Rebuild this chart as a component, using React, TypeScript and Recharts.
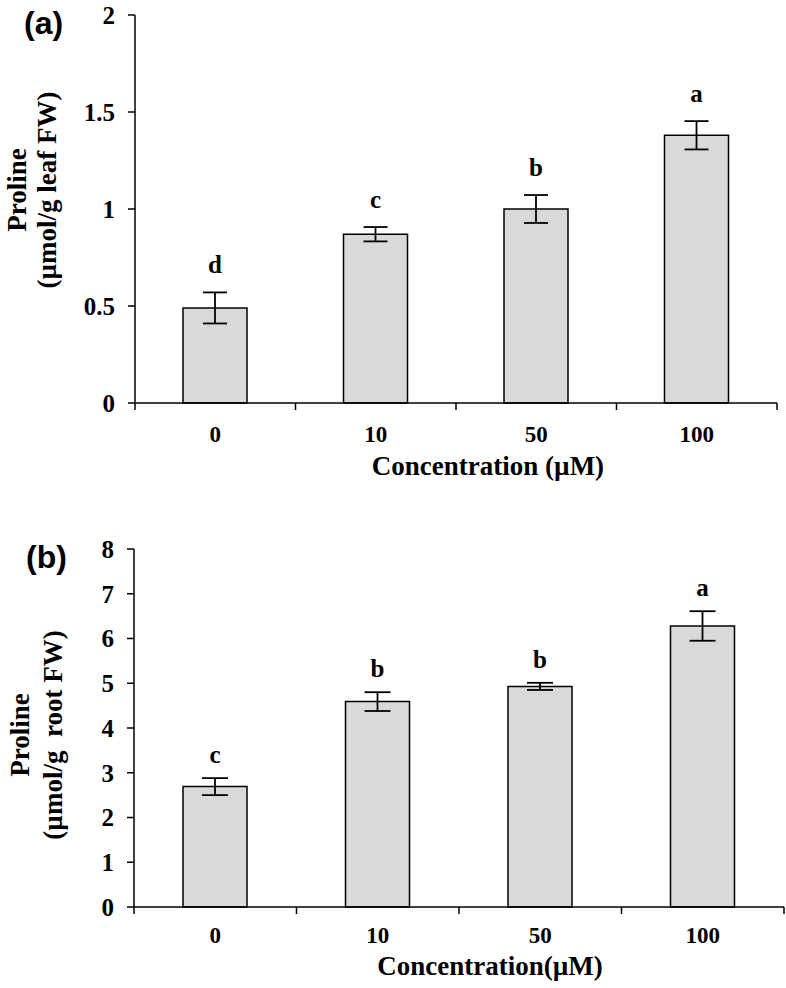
import React from 'react';
import { BarChart, Bar, XAxis, YAxis, ErrorBar } from 'recharts';

const concentrations = ['0', '10', '50', '100'];

const leafProline = [0.49, 0.87, 1.0, 1.38];
const leafErr = [0.08, 0.037, 0.072, 0.073];
const leafLetters = ['d', 'c', 'b', 'a'];
const leafTicks = [0, 0.5, 1, 1.5, 2];

const rootProline = [2.69, 4.59, 4.93, 6.28];
const rootErr = [0.19, 0.21, 0.08, 0.33];
const rootLetters = ['c', 'b', 'b', 'a'];
const rootTicks = [0, 1, 2, 3, 4, 5, 6, 7, 8];

const SERIF = '"Liberation Serif", "Times New Roman", serif';
const SANS = '"Liberation Sans", Arial, sans-serif';

interface PanelProps {
  top: number;
  height: number;
  margin: { top: number; right: number; left: number; bottom: number };
  yWidth: number;
  xHeight: number;
  values: number[];
  errs: number[];
  letters: string[];
  ticks: number[];
  tag: string;
  tagX: number;
  tagY: number;
  yLine1: string;
  yLine2: string;
  yLabelX: [number, number];
  yLabelY: number;
  xTitle: string;
  tickDy: number;
  titleDy: number;
  titleDx: number;
  letterGap: number;
  capWidth: number;
}

const W = 786;

const Panel: React.FC<PanelProps> = (p) => {
  const data = concentrations.map((c, i) => ({ conc: c, value: p.values[i], err: p.errs[i] }));
  const plotW = W - p.yWidth - p.margin.right - p.margin.left;
  const band = plotW / concentrations.length;

  const renderXTick = (props: any) => {
    const { x, y, index } = props;
    const lastIdx = concentrations.length - 1;
    return (
      <g>
        <line x1={x - band / 2} x2={x - band / 2} y1={y} y2={y + 7} stroke="#000" strokeWidth={1.5} />
        {index === lastIdx && (
          <line x1={x + band / 2} x2={x + band / 2} y1={y} y2={y + 7} stroke="#000" strokeWidth={1.5} />
        )}
        <text x={x} y={y + p.tickDy} textAnchor="middle" fontFamily={SERIF} fontWeight="bold" fontSize={23} fill="#000">
          {props.payload.value}
        </text>
      </g>
    );
  };

  const renderLetter = (props: any) => {
    const { x, y, width, height, index } = props;
    const v = p.values[index];
    const pxPerUnit = height / v;
    const yTop = y - p.errs[index] * pxPerUnit;
    return (
      <text
        key={`l-${index}`}
        x={x + width / 2}
        y={yTop - p.letterGap}
        textAnchor="middle"
        fontFamily={SERIF}
        fontWeight="bold"
        fontSize={25}
        fill="#000"
      >
        {p.letters[index]}
      </text>
    );
  };

  return (
    <div style={{ position: 'absolute', left: 0, top: p.top, width: W, height: p.height }}>
      <BarChart width={W} height={p.height} data={data} margin={p.margin} barCategoryGap="30%">
        <XAxis
          dataKey="conc"
          height={p.xHeight}
          axisLine={{ stroke: '#000', strokeWidth: 1.5 }}
          tickLine={false}
          tickSize={0}
          tickMargin={0}
          interval={0}
          tick={renderXTick}
          label={{
            content: (lp: any) => {
              const vb = lp.viewBox;
              return (
                <text
                  x={vb.x + vb.width / 2 + p.titleDx}
                  y={vb.y + p.titleDy}
                  textAnchor="middle"
                  fontFamily={SERIF}
                  fontWeight="bold"
                  fontSize={27}
                  fill="#000"
                >
                  {p.xTitle}
                </text>
              );
            },
          }}
        />
        <YAxis
          width={p.yWidth}
          domain={[p.ticks[0], p.ticks[p.ticks.length - 1]]}
          ticks={p.ticks}
          interval={0}
          axisLine={{ stroke: '#000', strokeWidth: 1.5 }}
          tickLine={{ stroke: '#000', strokeWidth: 1.5 }}
          tickSize={7}
          tickMargin={13}
          tick={{ fill: '#000', fontFamily: SERIF, fontWeight: 'bold', fontSize: 25 }}
          label={{
            content: () => (
              <g>
                <text x={p.tagX} y={p.tagY} fontFamily={SANS} fontWeight="bold" fontSize={32} fill="#000">
                  {p.tag}
                </text>
                <text
                  x={p.yLabelX[0]}
                  y={p.yLabelY}
                  transform={`rotate(-90, ${p.yLabelX[0]}, ${p.yLabelY})`}
                  textAnchor="middle"
                  fontFamily={SERIF}
                  fontWeight="bold"
                  fontSize={27}
                  fill="#000"
                >
                  {p.yLine1}
                </text>
                <text
                  x={p.yLabelX[1]}
                  y={p.yLabelY}
                  transform={`rotate(-90, ${p.yLabelX[1]}, ${p.yLabelY})`}
                  textAnchor="middle"
                  fontFamily={SERIF}
                  fontWeight="bold"
                  fontSize={27}
                  fill="#000"
                  style={{ whiteSpace: 'pre' }}
                >
                  {p.yLine2}
                </text>
              </g>
            ),
          }}
        />
        <Bar
          dataKey="value"
          fill="#d9d9d9"
          stroke="#000"
          strokeWidth={1.5}
          barSize={64}
          isAnimationActive={false}
          label={renderLetter}
        >
          <ErrorBar
            dataKey="err"
            direction="y"
            width={p.capWidth}
            stroke="#000"
            strokeWidth={1.8}
            isAnimationActive={false}
          />
        </Bar>
      </BarChart>
    </div>
  );
};

export default function App() {
  return (
    <div style={{ position: 'absolute', left: 0, top: 0, width: W, height: 988, background: '#fff' }}>
      <Panel
        top={0}
        height={490}
        margin={{ top: 15, right: 9, left: 0, bottom: 0 }}
        yWidth={135}
        xHeight={87}
        values={leafProline}
        errs={leafErr}
        letters={leafLetters}
        ticks={leafTicks}
        tag="(a)"
        tagX={24}
        tagY={34}
        yLine1="Proline"
        yLine2="(µmol/g leaf FW)"
        yLabelX={[26, 56]}
        yLabelY={190}
        xTitle="Concentration (µM)"
        tickDy={39}
        titleDy={72}
        titleDx={32}
        letterGap={19}
        capWidth={12}
      />
      <Panel
        top={490}
        height={498}
        margin={{ top: 59, right: 2, left: 0, bottom: 0 }}
        yWidth={134}
        xHeight={81}
        values={rootProline}
        errs={rootErr}
        letters={rootLetters}
        ticks={rootTicks}
        tag="(b)"
        tagX={26}
        tagY={78}
        yLine1="Proline"
        yLine2="(µmol/g  root FW)"
        yLabelX={[29, 62]}
        yLabelY={245}
        xTitle="Concentration(µM)"
        tickDy={36}
        titleDy={68}
        titleDx={31}
        letterGap={15}
        capWidth={13}
      />
    </div>
  );
}
